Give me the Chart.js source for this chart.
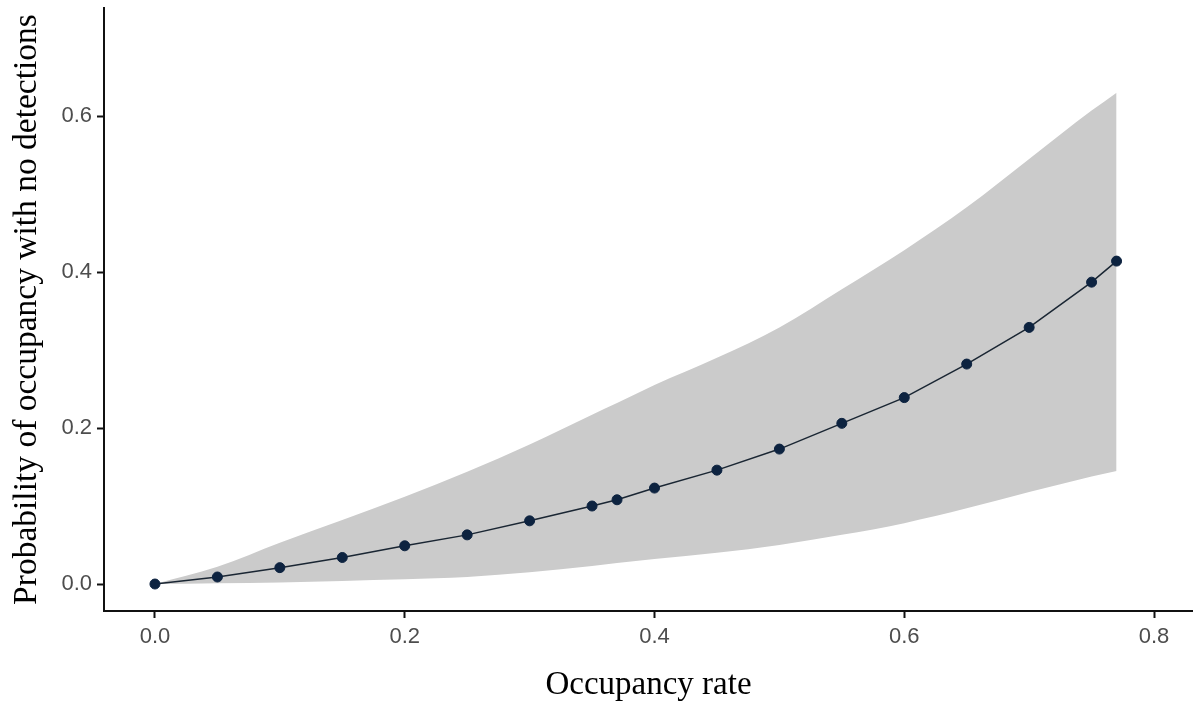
<!DOCTYPE html>
<html>
<head>
<meta charset="utf-8">
<title>Occupancy with no detections</title>
<script src="https://cdn.jsdelivr.net/npm/chart.js@4.4.1/dist/chart.umd.min.js"></script>
<style>
    html, body { margin: 0; padding: 0; background: #fff; }
    #wrap { width: 1193px; height: 702px; }
</style>
</head>
<body>
<div id="wrap"><canvas id="chart" width="1193" height="702"></canvas></div>
<script>
// values
const occupancyRate = [0, 0.05, 0.1, 0.15, 0.2, 0.25, 0.3, 0.35, 0.37, 0.4, 0.45, 0.5, 0.55, 0.6, 0.65, 0.7, 0.75, 0.77];
const probNoDetect  = [0, 0.009, 0.021, 0.034, 0.049, 0.063, 0.081, 0.100, 0.108, 0.123, 0.146, 0.173, 0.206, 0.239, 0.282, 0.329, 0.387, 0.414];
const ribbonUpper   = [0, 0.022, 0.053, 0.082, 0.112, 0.144, 0.179, 0.217, 0.232, 0.255, 0.290, 0.329, 0.378, 0.428, 0.483, 0.545, 0.607, 0.630];
const ribbonLower   = [0, 0.001, 0.002, 0.004, 0.006, 0.009, 0.015, 0.023, 0.027, 0.032, 0.040, 0.050, 0.063, 0.078, 0.097, 0.118, 0.138, 0.145];
const xTicks = [0, 0.2, 0.4, 0.6, 0.8];
const yTicks = [0, 0.2, 0.4, 0.6];

const xTitle = 'Occupancy rate';
const yTitle = 'Probability of occupancy with no detections';

const toPoints = (ys) => occupancyRate.map((x, i) => ({ x, y: ys[i] }));

const ribbonGrey = '#cbcbcb';
const navy = '#0d2340';
const tickGrey = '#4d4d4d';

const sansTick = { family: "'Liberation Sans', Arial, sans-serif", size: 22 };
const serifFamily = "'Liberation Serif', 'Times New Roman', serif";

const axisBorder = { display: true, color: '#111', width: 2 };
const axisGrid = { drawOnChartArea: false, drawTicks: true, tickLength: 7, tickColor: '#111', tickWidth: 2 };

new Chart(document.getElementById('chart'), {
    type: 'line',
    data: {
        datasets: [
            {
                label: 'lower',
                data: toPoints(ribbonLower),
                borderWidth: 0,
                pointRadius: 0,
                cubicInterpolationMode: 'monotone',
                fill: false,
                order: 2
            },
            {
                label: 'upper',
                data: toPoints(ribbonUpper),
                borderWidth: 0,
                pointRadius: 0,
                cubicInterpolationMode: 'monotone',
                backgroundColor: ribbonGrey,
                fill: '-1',
                order: 1
            },
            {
                label: 'estimate',
                data: toPoints(probNoDetect),
                borderColor: '#1a2633',
                borderWidth: 1.5,
                pointRadius: 5,
                pointBackgroundColor: navy,
                pointBorderColor: navy,
                pointBorderWidth: 1,
                tension: 0,
                fill: false,
                order: 0
            }
        ]
    },
    options: {
        responsive: false,
        animation: false,
        layout: {
            autoPadding: false,
            padding: { top: 8, right: 0, bottom: 0, left: 0 }
        },
        plugins: {
            legend: { display: false },
            tooltip: { enabled: false }
        },
        scales: {
            x: {
                type: 'linear',
                min: -0.0408,
                max: 0.8312,
                afterBuildTicks: (scale) => { scale.ticks = xTicks.map(v => ({ value: v })); },
                afterFit: (scale) => {
                    scale.height = 91;
                    scale.paddingLeft = 0;
                    scale.paddingRight = 0;
                },
                border: axisBorder,
                grid: axisGrid,
                ticks: {
                    color: tickGrey,
                    font: sansTick,
                    padding: 6,
                    maxRotation: 0,
                    callback: (v) => v.toFixed(1)
                },
                title: {
                    display: true,
                    text: xTitle,
                    color: '#000',
                    font: { family: serifFamily, size: 33, lineHeight: 1 },
                    padding: { top: 0, bottom: 0 }
                }
            },
            y: {
                type: 'linear',
                min: -0.0346,
                max: 0.7385,
                afterBuildTicks: (scale) => { scale.ticks = yTicks.map(v => ({ value: v })); },
                afterFit: (scale) => {
                    scale.width = 104;
                    scale.paddingTop = 0;
                    scale.paddingBottom = 0;
                },
                border: axisBorder,
                grid: axisGrid,
                ticks: {
                    color: tickGrey,
                    font: sansTick,
                    padding: 5,
                    callback: (v) => v.toFixed(1)
                },
                title: {
                    display: true,
                    text: yTitle,
                    color: '#000',
                    font: { family: serifFamily, size: 33.5, lineHeight: 1 },
                    padding: { top: 10, bottom: 0 }
                }
            }
        }
    }
});
</script>
</body>
</html>
